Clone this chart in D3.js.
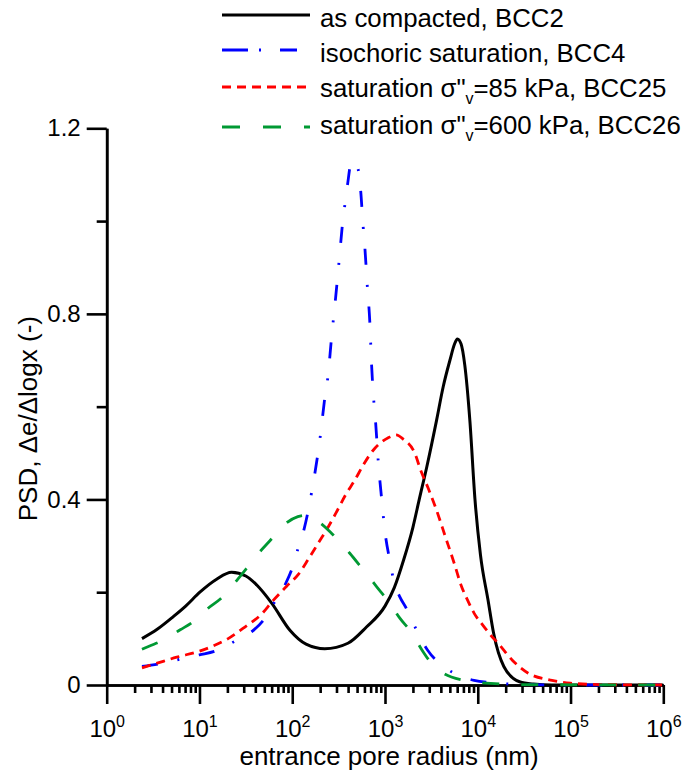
<!DOCTYPE html>
<html>
<head>
<meta charset="utf-8">
<script src="https://cdn.jsdelivr.net/npm/d3@7"></script>
<style>
  body { margin: 0; background: #fff; }
  svg { display: block; font-family: "Liberation Sans", Arial, sans-serif; }
  .axis path, .axis line { stroke: #000; stroke-width: 2.6; }
  .axis text { font-size: 24px; fill: #000; font-family: "Liberation Sans", Arial, sans-serif; }
</style>
</head>
<body>
<div id="chart"></div>
<script>
// entrance pore radius (nm) and PSD values
const compactedR   = [2.4, 3.5, 5.2, 7.1, 10.1, 15.3, 22.2, 31.6, 41.7, 60.3, 94.4, 141, 224, 398, 631, 1000, 1260, 1590, 2000, 2340, 2820, 3600, 4240, 5010, 5620, 6030, 6610, 7240, 8220, 9330, 10700, 12900, 14800, 19100, 28200, 39800, 63100, 1e6];
const compactedPSD = [0.10, 0.12, 0.147, 0.170, 0.200, 0.228, 0.243, 0.235, 0.215, 0.176, 0.118, 0.088, 0.078, 0.09, 0.125, 0.17, 0.21, 0.27, 0.34, 0.40, 0.47, 0.571, 0.643, 0.70, 0.735, 0.746, 0.735, 0.69, 0.57, 0.40, 0.28, 0.183, 0.112, 0.04, 0.007, 0.002, 0.0, 0.0];

const isochoricR   = [2.4, 4, 6.3, 10, 14.8, 23.4, 37.2, 49, 64.6, 83.2, 100, 115, 135, 162, 202, 225, 243, 265, 294, 321, 349, 372, 398, 427, 468, 513, 546, 582, 607, 644, 687, 716, 759, 793, 845, 918, 1000, 1122, 1259, 1445, 1698, 1950, 2239, 2884, 4074, 5754, 9120, 14125, 31623, 1e5, 1e6];
const isochoricPSD = [0.040, 0.047, 0.056, 0.065, 0.073, 0.093, 0.116, 0.140, 0.179, 0.215, 0.252, 0.293, 0.338, 0.416, 0.541, 0.621, 0.666, 0.748, 0.836, 0.917, 0.996, 1.04, 1.084, 1.123, 1.13, 1.112, 1.067, 0.987, 0.942, 0.861, 0.78, 0.692, 0.61, 0.565, 0.483, 0.403, 0.33, 0.27, 0.22, 0.19, 0.165, 0.14, 0.114, 0.075, 0.043, 0.024, 0.01, 0.005, 0.001, 0.0, 0.0];

const sat85R   = [2.4, 3.5, 5.7, 10, 14, 20.4, 30.9, 46.8, 60.3, 87.1, 117, 148, 191, 245, 302, 376, 474, 582, 746, 1084, 1318, 1570, 2089, 2455, 2924, 3548, 4467, 5623, 6607, 7762, 9120, 11220, 14125, 16596, 23442, 34674, 63096, 1e5, 2e5, 1e6];
const sat85PSD = [0.037, 0.047, 0.06, 0.073, 0.084, 0.10, 0.125, 0.153, 0.179, 0.213, 0.239, 0.27, 0.306, 0.341, 0.374, 0.41, 0.442, 0.474, 0.506, 0.533, 0.539, 0.53, 0.50, 0.46, 0.424, 0.38, 0.32, 0.26, 0.215, 0.183, 0.155, 0.13, 0.105, 0.09, 0.054, 0.026, 0.01, 0.004, 0.001, 0.0];

const sat600R   = [2.4, 2.9, 4.1, 6.2, 8.5, 12.3, 17.8, 24, 32.4, 44.7, 57.5, 81.3, 115, 141, 186, 257, 347, 417, 562, 708, 891, 1122, 1445, 1950, 2512, 3162, 4074, 7079, 10471, 31623, 1e6];
const sat600PSD = [0.077, 0.084, 0.097, 0.119, 0.136, 0.165, 0.19, 0.22, 0.252, 0.287, 0.311, 0.345, 0.363, 0.366, 0.354, 0.33, 0.302, 0.284, 0.252, 0.227, 0.202, 0.177, 0.144, 0.112, 0.075, 0.047, 0.028, 0.01, 0.005, 0.001, 0.0];

const seriesNames = ["as compacted, BCC2", "isochoric saturation, BCC4", "saturation σ\"v=85 kPa, BCC25", "saturation σ\"v=600 kPa, BCC26"];
const yMajorTicks = [0, 0.4, 0.8, 1.2];
const yMinorTicks = [0.2, 0.6, 1.0];
const xMajorTicks = [1, 10, 100, 1000, 1e4, 1e5, 1e6];

const outerWidth = 699, outerHeight = 772;
const margin = {top: 128.3, right: 35.7, bottom: 87, left: 106.7};
const width = outerWidth - margin.left - margin.right;
const height = outerHeight - margin.top - margin.bottom;

const root = d3.select("#chart").append("svg")
    .attr("width", outerWidth)
    .attr("height", outerHeight);

const svg = root.append("g")
    .attr("transform", "translate(" + margin.left + "," + margin.top + ")");

const x = d3.scaleLog().domain([1, 1e6]).range([0, width]);
const y = d3.scaleLinear().domain([0, 1.2]).range([height, 0]);

// minor x ticks 2..9 in each decade
const xMinorTicks = x.ticks().filter(t => xMajorTicks.indexOf(t) < 0);

// y axis
svg.append("g").attr("class", "axis")
    .call(d3.axisLeft(y).tickValues(yMinorTicks).tickSize(10).tickSizeOuter(0).tickFormat(""));
svg.append("g").attr("class", "axis")
    .call(d3.axisLeft(y).tickValues(yMajorTicks).tickSize(20).tickSizeOuter(0).tickPadding(6)
        .tickFormat(d => d === 0 ? "0" : d3.format(".1f")(d)));

// x axis
svg.append("g").attr("class", "axis")
    .attr("transform", "translate(0," + height + ")")
    .call(d3.axisBottom(x).tickValues(xMinorTicks).tickSize(8).tickSizeOuter(0).tickFormat(""));
const xMaj = svg.append("g").attr("class", "axis")
    .attr("transform", "translate(0," + height + ")")
    .call(d3.axisBottom(x).tickValues(xMajorTicks).tickSize(19).tickSizeOuter(0).tickFormat(""));

xMaj.selectAll(".tick").each(function(d) {
    const t = d3.select(this).append("text")
        .attr("y", 52)
        .attr("text-anchor", "middle");
    t.append("tspan").text("10");
    t.append("tspan").attr("dy", -10).style("font-size", "16px").text(Math.round(Math.log10(d)));
});

// axis titles
root.append("text")
    .attr("x", margin.left + width / 2 + 4)
    .attr("y", 765)
    .attr("text-anchor", "middle")
    .style("font-size", "26px")
    .text("entrance pore radius (nm)");

const yTitle = root.append("text")
    .attr("transform", "translate(37," + (margin.top + height / 2 + 12) + ") rotate(-90)")
    .attr("text-anchor", "middle")
    .style("font-size", "26px");
yTitle.append("tspan").text("PSD, ");
yTitle.append("tspan").text("Δe/Δlogx (-)");

// curves
const series = [
    {r: compactedR, v: compactedPSD, color: "#000000", dash: null, w: 3},
    {r: isochoricR, v: isochoricPSD, color: "#0000ff", dash: "16,20,2,20", w: 2.8},
    {r: sat85R, v: sat85PSD, color: "#ff0000", dash: "9,6", w: 2.8},
    {r: sat600R, v: sat600PSD, color: "#009933", dash: "17,22", w: 2.8}
];

const line = d3.line()
    .x(d => x(d[0]))
    .y(d => y(d[1]))
    .curve(d3.curveMonotoneX);

svg.selectAll(".curve")
    .data(series)
    .enter()
    .append("path")
    .attr("class", "curve")
    .attr("fill", "none")
    .attr("stroke", d => d.color)
    .attr("stroke-width", d => d.w)
    .attr("stroke-dasharray", d => d.dash)
    .attr("d", d => line(d.r.map((r, i) => [r, d.v[i]])));

// legend
const legendLineY = [15, 50, 87, 127];
const legendTextY = [27, 62, 97, 134];
const legendDash = [null, "26,11,2,19,17", "9,6", "18,23"];

const legend = root.append("g");
series.forEach((s, i) => {
    legend.append("line")
        .attr("x1", 222).attr("x2", 310)
        .attr("y1", legendLineY[i]).attr("y2", legendLineY[i])
        .attr("stroke", s.color)
        .attr("stroke-width", s.w)
        .attr("stroke-dasharray", legendDash[i]);
    const t = legend.append("text")
        .attr("x", 320)
        .attr("y", legendTextY[i])
        .style("font-size", "25.8px");
    const name = seriesNames[i];
    const k = name.indexOf("\"v");
    if (k < 0) {
        t.text(name);
    } else {
        t.append("tspan").text(name.slice(0, k + 1));
        t.append("tspan").attr("dy", 7).style("font-size", "16px").text("v");
        t.append("tspan").attr("dy", -7).text(name.slice(k + 2));
    }
});
</script>
</body>
</html>
